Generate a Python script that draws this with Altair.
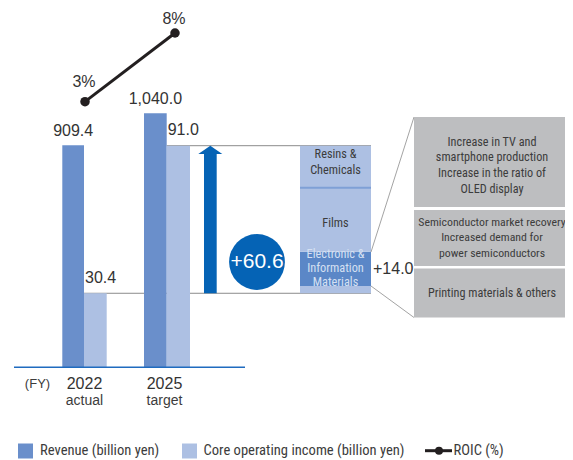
import altair as alt
import pandas as pd

# ---------------- data ----------------
years = ["2022", "2025"]
year_notes = ["actual", "target"]
revenue = [909.4, 1040.0]          # billion yen
core_income = [30.4, 91.0]         # billion yen
roic = [3, 8]                      # %

segments = ["Printing materials & others", "Electronic & Information Materials",
            "Films", "Resins & Chemicals"]            # bottom -> top
segment_increase = [3.0, 14.0, 26.3, 17.3]            # sums to +60.6
segment_labels = ["", "Electronic &\nInformation\nMaterials", "Films", "Resins &\nChemicals"]

driver_texts = [
    "Increase in TV and\nsmartphone production\nIncrease in the ratio of\nOLED display",
    "Semiconductor market recovery\nIncreased demand for\npower semiconductors",
    "Printing materials & others",
]
legend_labels = ["Revenue (billion yen)", "Core operating income (billion yen)", "ROIC (%)"]

# ---------------- layout / style ----------------
W, H, M = 557, 452, 8
BASE = 367.3 - M
COI_PX, REV_PX = 2.4352, 0.2443
ROIC_PX, ROIC_ZERO = 13.74, 134.9

C_REV, C_COI, C_EIM, C_DIV = "#6a8fcb", "#adc0e3", "#5b87c7", "#7fa0d6"
BLUE, GRAY_BOX, GRAY_LINE, TXT = "#0563b5", "#bdbec0", "#8c8c8c", "#333333"
SANS = "Liberation Sans, Arial, Helvetica, sans-serif"
NARROW = "Liberation Sans Narrow, Arial Narrow, Roboto Condensed, DejaVu Sans Condensed, sans-serif"

x_scale = alt.Scale(domain=[M, M + W], range=[0, W], nice=False, zero=False)
y_layout = alt.Scale(domain=[M, M + H], range=[0, H], nice=False, zero=False)
y_coi = alt.Scale(domain=[0, BASE / COI_PX], range=[BASE, 0], nice=False)
y_rev = alt.Scale(domain=[0, BASE / REV_PX], range=[BASE, 0], nice=False)
y_roic = alt.Scale(domain=[0, ROIC_ZERO / ROIC_PX], range=[ROIC_ZERO, 0], nice=False)


def X(f):
    return alt.X(f, type="quantitative", scale=x_scale, axis=None)


def Y(f, s):
    return alt.Y(f, type="quantitative", scale=s, axis=None)


layers = []

# ---- bars ----
rev_df = pd.DataFrame({"year": years, "value": revenue, "x0": [62.3, 144.0],
                       "x1": [84.0, 166.7], "zero": 0.0})
rev_df["xm"] = (rev_df.x0 + rev_df.x1) / 2
coi_df = pd.DataFrame({"year": years, "value": core_income, "x0": [84.0, 166.7],
                       "x1": [106.7, 190.0], "zero": 0.0, "xr": [371.0, 371.0]})

layers.append(alt.Chart(coi_df).mark_rule(color=GRAY_LINE, strokeWidth=1).encode(
    x=X("x0"), x2="xr:Q", y=Y("value", y_coi)))
layers.append(alt.Chart(rev_df).mark_rect(color=C_REV).encode(
    x=X("x0"), x2="x1:Q", y=Y("value", y_rev), y2="zero:Q"))
layers.append(alt.Chart(coi_df).mark_rect(color=C_COI).encode(
    x=X("x0"), x2="x1:Q", y=Y("value", y_coi), y2="zero:Q"))
layers.append(alt.Chart(pd.DataFrame({"v": [0.0], "a": [14.0], "b": [245.0]}))
              .mark_rule(color="#1f6bbf", strokeWidth=1.5).encode(
    x=X("a"), x2="b:Q", y=Y("v", y_coi)))

# value labels
layers.append(alt.Chart(rev_df).mark_text(font=SANS, fontSize=16, color=TXT, dy=-14).encode(
    x=X("xm"), y=Y("value", y_rev), text=alt.Text("value:Q", format=",.1f")))
layers.append(alt.Chart(coi_df).mark_text(font=SANS, fontSize=16, color=TXT, dy=-15.5,
                                          align="left", dx=1).encode(
    x=X("x0"), y=Y("value", y_coi), text=alt.Text("value:Q", format=",.1f")))

# ---- breakdown of increase ----
y0s, y1s, acc = [], [], core_income[0]
for v in segment_increase:
    y0s.append(acc)
    acc += v
    y1s.append(acc)
seg_df = pd.DataFrame({"segment": segments, "increase": segment_increase, "y0": y0s, "y1": y1s,
                       "label": segment_labels, "x0": 300.0, "x1": 371.0, "xm": 335.5,
                       "c": [C_COI, C_EIM, C_COI, C_COI]})
seg_df["ym"] = (seg_df.y0 + seg_df.y1) / 2
seg_df["plus"] = seg_df.increase.map(lambda v: f"+{v:.1f}")

layers.append(alt.Chart(seg_df).mark_rect().encode(
    x=X("x0"), x2="x1:Q", y=Y("y0", y_coi), y2="y1:Q",
    color=alt.Color("c:N", scale=None)))
layers.append(alt.Chart(seg_df[seg_df.segment == "Films"]).mark_rule(color=C_DIV, strokeWidth=2).encode(
    x=X("x0"), x2="x1:Q", y=Y("y1", y_coi)))

# (dy of first line, line height, colour)
seg_style = {"Resins & Chemicals": (-12.5, 16, "#3c3c3c"), "Films": (3, 14, "#3c3c3c"),
             "Electronic & Information Materials": (-14.5, 13.7, "#d5e0f2")}
for seg, (dy, lh, col) in seg_style.items():
    layers.append(alt.Chart(seg_df[seg_df.segment == seg]).mark_text(
        font=NARROW, fontSize=12.3, color=col, lineBreak="\n", lineHeight=lh, dy=dy).encode(
        x=X("xm"), y=Y("ym", y_coi), text="label:N"))

layers.append(alt.Chart(seg_df[seg_df.segment == "Electronic & Information Materials"]).mark_text(
    font=SANS, fontSize=16, color=TXT, align="left", dx=2).encode(
    x=X("x1"), y=Y("ym", y_coi), text="plus:N"))

# ---- arrow ----
arrow_df = pd.DataFrame({"from": [core_income[0]], "to": [core_income[1]],
                         "xs0": [204.0], "xs1": [216.7], "xc": [210.3]})
layers.append(alt.Chart(arrow_df).mark_rect(color=BLUE, y2Offset=6).encode(
    x=X("xs0"), x2="xs1:Q", y=Y("from", y_coi), y2="to:Q"))
layers.append(alt.Chart(arrow_df).mark_point(shape="M-1,0.7L0,0L1,0.7Z", size=576, filled=True,
                                             opacity=1, color=BLUE, strokeWidth=0).encode(
    x=X("xc"), y=Y("to", y_coi)))

# ---- circle with total increase ----
circ_df = pd.DataFrame({"x": [257.0], "y": [262.0],
                        "label": [f"+{core_income[1] - core_income[0]:.1f}"]})
layers.append(alt.Chart(circ_df).mark_circle(size=3117, color=BLUE, opacity=1).encode(
    x=X("x"), y=Y("y", y_layout)))
layers.append(alt.Chart(circ_df).mark_text(font=SANS, fontSize=21, color="white").encode(
    x=X("x"), y=Y("y", y_layout), text="label:N"))

# ---- connectors and driver boxes ----
conn_df = pd.DataFrame({"x0": [371.0, 371.0], "x1": [414.0, 414.0],
                        "y0": [252.0, 286.0], "y1": [117.0, 317.5]})
layers.append(alt.Chart(conn_df).mark_rule(color=GRAY_LINE, strokeWidth=0.8).encode(
    x=X("x0"), x2="x1:Q", y=Y("y0", y_layout), y2="y1:Q"))
box_df = pd.DataFrame({"text": driver_texts, "y0": [117.0, 210.0, 268.5], "y1": [207.0, 266.0, 317.5],
                       "yt": [141.7, 221.7, 292.7], "x0": 414.0, "x1": 570.0, "xt": 492.0,
                       "fs": [12.2, 11.8, 12.2]})
layers.append(alt.Chart(box_df).mark_rect(color=GRAY_BOX).encode(
    x=X("x0"), x2="x1:Q", y=Y("y0", y_layout), y2="y1:Q"))
layers.append(alt.Chart(box_df).mark_text(font=NARROW, color="#3c3c3c",
                                          lineBreak="\n", lineHeight=15.8).encode(
    x=X("xt"), y=Y("yt", y_layout), text="text:N",
    size=alt.Size("fs:Q", scale=None)))

# ---- ROIC ----
roic_df = pd.DataFrame({"year": years, "roic": roic, "x": [85.0, 175.0], "dy": [-20.0, -14.0]})
roic_df["label"] = roic_df.roic.map(lambda v: f"{v}%")
layers.append(alt.Chart(roic_df).mark_line(color="#231f20", strokeWidth=3).encode(
    x=X("x"), y=Y("roic", y_roic)))
layers.append(alt.Chart(roic_df).mark_circle(color="#231f20", size=90, opacity=1).encode(
    x=X("x"), y=Y("roic", y_roic)))
for _, r in roic_df.iterrows():
    layers.append(alt.Chart(roic_df[roic_df.year == r.year]).mark_text(
        font=SANS, fontSize=16, color=TXT, dy=r.dy, dx=-1).encode(
        x=X("x"), y=Y("roic", y_roic), text="label:N"))

# ---- category labels ----
xl_df = pd.DataFrame({"year": years, "note": year_notes, "x": [84.5, 164.5],
                      "y1": [384.0, 384.0], "y2": [401.0, 401.0]})
layers.append(alt.Chart(xl_df).mark_text(font=SANS, fontSize=16, color=TXT).encode(
    x=X("x"), y=Y("y1", y_layout), text="year:N"))
layers.append(alt.Chart(xl_df).mark_text(font=SANS, fontSize=14, color="#3c3c3c").encode(
    x=X("x"), y=Y("y2", y_layout), text="note:N"))
layers.append(alt.Chart(pd.DataFrame({"t": ["(FY)"], "x": [37.5], "y": [384.0]}))
              .mark_text(font=SANS, fontSize=13, color="#3c3c3c").encode(
    x=X("x"), y=Y("y", y_layout), text="t:N"))

# ---- legend ----
leg_sq = pd.DataFrame({"s": legend_labels[:2], "x0": [18.0, 182.0], "x1": [33.0, 197.0],
                       "y0": [443.5, 443.5], "y1": [458.5, 458.5], "c": [C_REV, C_COI]})
layers.append(alt.Chart(leg_sq).mark_rect().encode(
    x=X("x0"), x2="x1:Q", y=Y("y0", y_layout), y2="y1:Q",
    color=alt.Color("c:N", scale=None)))
leg_txt = pd.DataFrame({"s": legend_labels, "x": [40.0, 203.5, 453.5], "y": [450.5, 450.5, 450.5]})
layers.append(alt.Chart(leg_txt).mark_text(font=NARROW, fontSize=14.6, color="#3c3c3c", align="left").encode(
    x=X("x"), y=Y("y", y_layout), text="s:N"))
leg_line = pd.DataFrame({"x0": [425.0], "x1": [452.0], "xc": [439.0], "y": [450.7]})
layers.append(alt.Chart(leg_line).mark_rule(color="#231f20", strokeWidth=3).encode(
    x=X("x0"), x2="x1:Q", y=Y("y", y_layout)))
layers.append(alt.Chart(leg_line).mark_circle(color="#231f20", size=64, opacity=1).encode(
    x=X("xc"), y=Y("y", y_layout)))

chart = (
    alt.layer(*layers)
    .resolve_scale(y="independent")
    .properties(width=W, height=H, autosize=alt.AutoSizeParams(type="none"), padding=0,
                background="white")
    .configure_view(stroke=None)
)

chart.save("out.html", embed_options={"renderer": "svg", "actions": False})
